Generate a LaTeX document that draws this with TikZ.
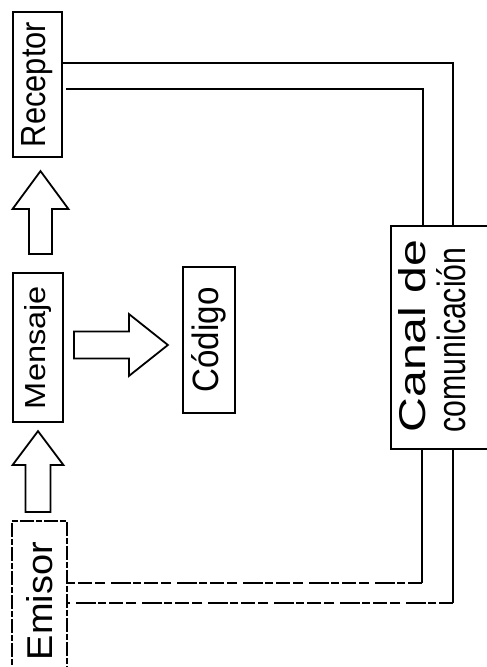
\documentclass[tikz,border=0pt]{standalone}
\usepackage{fontspec}
\setmainfont{Liberation Sans}
\usetikzlibrary{calc}
\begin{document}
\begin{tikzpicture}[x=1pt,y=1pt,
  box/.style={draw, line width=1.8pt, inner sep=0pt},
  brokenbox/.style={draw, line width=1.8pt, inner sep=0pt, dash pattern=on 14pt off 2pt on 6pt off 2pt},
  ln/.style={line width=1.6pt},
  faint/.style={line width=1.5pt, dash pattern=on 14pt off 3pt on 8pt off 2pt on 20pt off 6pt on 10pt off 3pt},
  lbl/.style={inner sep=0pt},
  pics/barrow/.style args={#1/#2/#3/#4}{code={
    \draw[line width=1.8pt, line join=miter]
      (0,-#2) -- ({#1-#4},-#2) -- ({#1-#4},-#3) -- (#1,0) -- ({#1-#4},#3) -- ({#1-#4},#2) -- (0,#2) -- cycle;}}
]
\useasboundingbox (0,0) rectangle (487,667);
\clip (0,0) rectangle (487,667);

% boxes
\node[box, minimum width=49pt, minimum height=145pt] (rec) at (37.5,582.5)
  {\rotatebox{90}{\resizebox{125pt}{24pt}{Receptor}}};
\node[box, minimum width=50pt, minimum height=149pt] (mens) at (38,319.5)
  {\rotatebox{90}{\resizebox{123pt}{21pt}{Mensaje}}};
\node[box, minimum width=52pt, minimum height=146pt] (cod) at (209,327)
  {\rotatebox{90}{\resizebox{105pt}{27pt}{Código}}};
\node[brokenbox, minimum width=55pt, minimum height=176pt] (emi) at (39.5,58) {};
\node[lbl] (emit) at (40,66) {\rotatebox{90}{\resizebox{118pt}{26pt}{Emisor}}};
\node[box, minimum width=104pt, minimum height=223pt] (can) at (443,329.5) {};
\node[lbl] (can1) at (412.5,331) {\rotatebox{90}{\resizebox{193pt}{27pt}{Canal de}}};
\node[lbl] (can2) at (451,327) {\rotatebox{90}{\resizebox{185pt}{29pt}{comunicación}}};

% block arrows
\pic[rotate=90] at ($(emi.north)+(-1.5,8)$) {barrow=81/12.5/25.5/34};
\pic[rotate=90] at ($(mens.north)+(2.5,18)$) {barrow=83/11.5/28/38};
\pic at ($(mens.east)+(10,2.5)$) {barrow=94/13.5/31/39};

% channel lines to receptor
\draw[ln] ($(rec.east)+(0,21.5)$) -| ($(can.north)+(10,0)$);
\draw[ln] ($(rec.east)+(3,-4.5)$) -| ($(can.north)+(-20,0)$);

% channel lines from emisor
\coordinate (k1) at ($(can.south)+(-21,0)$);
\coordinate (k2) at ($(can.south)+(10,0)$);
\coordinate (e1) at ($(emi.east)+(0,26)$);
\coordinate (e2) at ($(emi.east)+(0,6)$);
\draw[ln] (k1) -- (k1 |- e1);
\draw[faint] (k1 |- e1) -- (e1);
\draw[ln] (k2) -- (k2 |- e2);
\draw[faint] (k2 |- e2) -- (e2);
\end{tikzpicture}
\end{document}
